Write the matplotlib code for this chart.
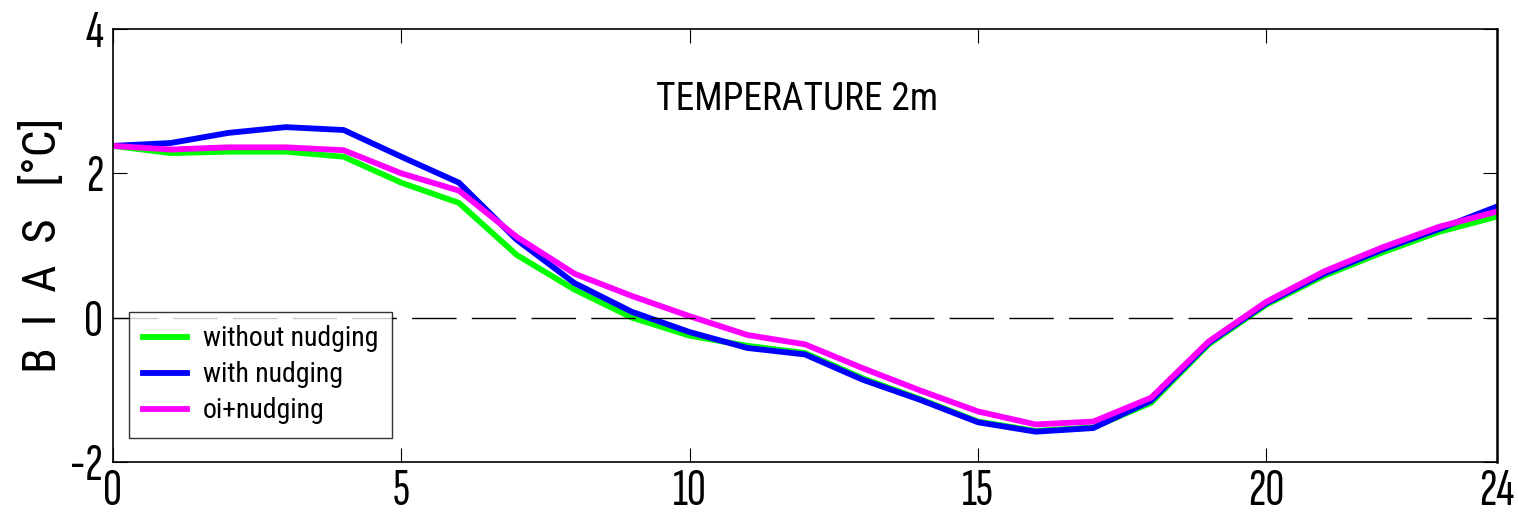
import matplotlib
matplotlib.use("Agg")
import matplotlib.pyplot as plt
from matplotlib import font_manager

# data
hours = list(range(25))
without_nudging = [2.38, 2.28, 2.30, 2.30, 2.23, 1.87, 1.59, 0.87, 0.39, 0.00, -0.25, -0.39, -0.49,
                   -0.84, -1.13, -1.44, -1.57, -1.52, -1.18, -0.37, 0.18, 0.58, 0.90, 1.19, 1.40]
with_nudging = [2.38, 2.42, 2.56, 2.64, 2.60, 2.23, 1.87, 1.08, 0.48, 0.08, -0.20, -0.42, -0.51,
                -0.86, -1.14, -1.45, -1.58, -1.53, -1.15, -0.35, 0.20, 0.61, 0.94, 1.23, 1.54]
oi_nudging = [2.38, 2.33, 2.36, 2.36, 2.32, 2.00, 1.76, 1.12, 0.61, 0.30, 0.02, -0.24, -0.37,
              -0.70, -1.01, -1.30, -1.48, -1.44, -1.11, -0.33, 0.22, 0.64, 0.97, 1.26, 1.47]
labels = ["without nudging", "with nudging", "oi+nudging"]
colors = ["#00ff00", "#0000ff", "#ff00ff"]
xticks = [0, 5, 10, 15, 20, 24]
yticks = [-2, 0, 2, 4]

names = {f.name for f in font_manager.fontManager.ttflist}

def pick(cands):
    for c in cands:
        if c in names:
            return c
    return "DejaVu Sans"

text_font = pick(["Liberation Sans Narrow", "Arial Narrow", "Roboto Condensed", "Archivo Narrow",
                  "PT Sans Narrow", "Pragati Narrow", "Barlow Condensed"])
tick_font = pick(["Sofia Sans Extra Condensed", "Saira Extra Condensed", "Barlow Condensed",
                  "Roboto Condensed", "Liberation Sans Narrow"])
plt.rcParams["font.family"] = [text_font, "DejaVu Sans"]
plt.rcParams["axes.unicode_minus"] = False

fig = plt.figure(figsize=(15.18, 5.29), dpi=100)
ax = fig.add_axes([0.0744, 0.1267, 0.9118, 0.8185])

for ys, lab, col in zip([without_nudging, with_nudging, oi_nudging], labels, colors):
    ax.plot(hours, ys, color=col, lw=4.2, label=lab)

ax.axhline(0, color="black", lw=1, dashes=(32, 11))

ax.set_xlim(0, 24)
ax.set_ylim(-2, 4)
ax.set_xticks(xticks)
ax.set_yticks(yticks)
ax.tick_params(direction="in", length=10, width=0.8, top=True, right=True, labelsize=38)
ax.tick_params(axis="x", pad=5)
ax.tick_params(axis="y", pad=7)
for lbl in ax.get_xticklabels() + ax.get_yticklabels():
    lbl.set_family([tick_font, "DejaVu Sans"])
for s in ax.spines.values():
    s.set_linewidth(1.2)
ax.spines["right"].set_linewidth(1.8)

ax.set_ylabel("B  I  A  S   [°C]", fontsize=34, labelpad=4)
ax.text(0.494, 0.836, "TEMPERATURE 2m", transform=ax.transAxes, fontsize=27,
        ha="center", va="center")

leg = ax.legend(loc="lower left", bbox_to_anchor=(0.0116, 0.055), borderaxespad=0,
                fontsize=20, frameon=True, fancybox=False, edgecolor="black",
                handlelength=1.6, borderpad=0.5, labelspacing=0.32, handletextpad=0.55)
leg.get_frame().set_linewidth(1.0)

fig.savefig("out.png", dpi=100)
